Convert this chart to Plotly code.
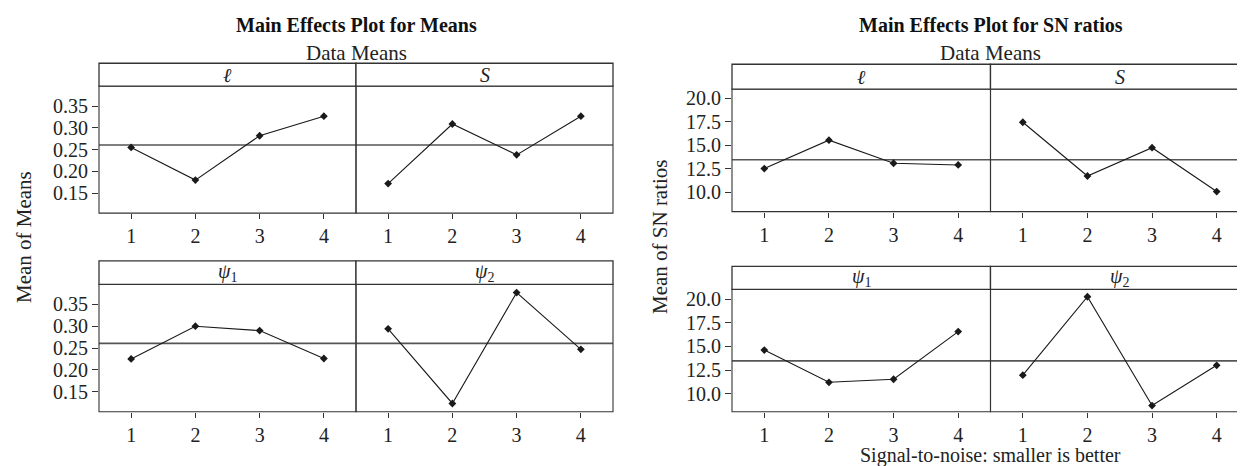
import plotly.graph_objects as go

W, H = 1245, 466

levels = [1, 2, 3, 4]
means_l = [0.255, 0.180, 0.282, 0.327]
means_S = [0.172, 0.309, 0.238, 0.327]
means_psi1 = [0.225, 0.300, 0.290, 0.226]
means_psi2 = [0.294, 0.123, 0.377, 0.247]
grand_mean_means = 0.2607

sn_l = [12.54, 15.55, 13.10, 12.92]
sn_S = [17.45, 11.75, 14.75, 10.10]
sn_psi1 = [14.62, 11.20, 11.52, 16.58]
sn_psi2 = [11.95, 20.28, 8.73, 13.00]
grand_mean_sn = 13.47

means_ticks = [0.15, 0.20, 0.25, 0.30, 0.35]
sn_ticks = [10.0, 12.5, 15.0, 17.5, 20.0]

strip_labels = ["<i>ℓ</i>", "<i>S</i>", "<i>ψ</i><sub>1</sub>", "<i>ψ</i><sub>2</sub>"]

FONT = "Liberation Serif"
LINE = "#1a1a1a"
FRAME = "#333333"
FS = 20

def fx(px):
    return px / W

def fy(py):
    return 1 - py / H

LX = (91.0, 348.0, 605.0)
RX = (724.0, 982.5, 1241.0)
L_ROWS = [(53.5, 76.5, 204.0), (252.0, 275.5, 403.5)]
R_ROWS = [(54.5, 79.5, 202.5), (257.5, 280.5, 403.5)]

panels = []
def add_block(XS, ROWS, yranges, ticks, fmt, datas, mean):
    k = 0
    for r, (st, pt, pb) in enumerate(ROWS):
        for c in range(2):
            panels.append(dict(x=(XS[c], XS[c + 1]), st=st, pt=pt, pb=pb, yr=yranges[r],
                               ticks=ticks, fmt=fmt, data=datas[k], mean=mean,
                               lab=strip_labels[k], ylab=(c == 0)))
            k += 1

add_block(LX, L_ROWS, [(0.104, 0.396), (0.104, 0.396)], means_ticks, ".2f",
          [means_l, means_S, means_psi1, means_psi2], grand_mean_means)
add_block(RX, R_ROWS, [(7.97, 20.96), (8.07, 21.07)], sn_ticks, ".1f",
          [sn_l, sn_S, sn_psi1, sn_psi2], grand_mean_sn)

fig = go.Figure()
layout = {}
shapes = []
annotations = []

for i, p in enumerate(panels, start=1):
    xa = "x" if i == 1 else f"x{i}"
    ya = "y" if i == 1 else f"y{i}"
    xkey = "xaxis" if i == 1 else f"xaxis{i}"
    ykey = "yaxis" if i == 1 else f"yaxis{i}"
    fig.add_trace(go.Scatter(x=[0.5, 4.5], y=[p["mean"], p["mean"]], mode="lines",
                             line=dict(color="#555555", width=1.6), xaxis=xa, yaxis=ya,
                             hoverinfo="skip", showlegend=False))
    fig.add_trace(go.Scatter(x=levels, y=p["data"], mode="lines+markers",
                             line=dict(color=LINE, width=1.1),
                             marker=dict(symbol="diamond", size=6, color=LINE),
                             xaxis=xa, yaxis=ya, showlegend=False))
    layout[xkey] = dict(domain=[fx(p["x"][0]), fx(p["x"][1])], anchor=ya, range=[0.5, 4.5],
                        tickvals=levels, ticks="outside", ticklen=5, tickcolor=FRAME,
                        showgrid=False, zeroline=False, showline=False,
                        tickfont=dict(family=FONT, size=FS, color="#222"))
    yax = dict(domain=[fy(p["pb"]), fy(p["pt"])], anchor=xa, range=list(p["yr"]),
               showgrid=False, zeroline=False, showline=False)
    if p["ylab"]:
        yax.update(tickvals=p["ticks"], tickformat=p["fmt"], ticks="outside", ticklen=6,
                   tickcolor=FRAME, tickfont=dict(family=FONT, size=FS, color="#222"))
    else:
        yax.update(showticklabels=False, ticks="")
    layout[ykey] = yax
    shapes.append(dict(type="rect", xref="paper", yref="paper",
                       x0=fx(p["x"][0]), x1=fx(p["x"][1]), y0=fy(p["pb"]), y1=fy(p["pt"]),
                       line=dict(color=FRAME, width=1.1), fillcolor="rgba(0,0,0,0)", layer="above"))
    shapes.append(dict(type="rect", xref="paper", yref="paper",
                       x0=fx(p["x"][0]), x1=fx(p["x"][1]), y0=fy(p["pt"]), y1=fy(p["st"]),
                       line=dict(color=FRAME, width=1.3), fillcolor="white", layer="above"))
    annotations.append(dict(text=p["lab"], xref="paper", yref="paper",
                            x=fx((p["x"][0] + p["x"][1]) / 2), y=fy((p["st"] + p["pt"]) / 2),
                            xanchor="center", yanchor="middle", showarrow=False,
                            font=dict(family=FONT, size=FS, color="#222")))

for cx, title in [((LX[0] + LX[2]) / 2, "Main Effects Plot for Means"),
                  ((RX[0] + RX[2]) / 2, "Main Effects Plot for SN ratios")]:
    annotations.append(dict(text=f"<b>{title}</b>", xref="paper", yref="paper", x=fx(cx), y=fy(15),
                            xanchor="center", yanchor="middle", showarrow=False,
                            font=dict(family=FONT, size=FS, color="#111")))
    annotations.append(dict(text="Data Means", xref="paper", yref="paper", x=fx(cx), y=fy(43),
                            xanchor="center", yanchor="middle", showarrow=False,
                            font=dict(family=FONT, size=21, color="#222")))

annotations.append(dict(text="Mean of Means", xref="paper", yref="paper", x=fx(16), y=fy(228),
                        xanchor="center", yanchor="middle", textangle=-90, showarrow=False,
                        font=dict(family=FONT, size=21, color="#222")))
annotations.append(dict(text="Mean of SN ratios", xref="paper", yref="paper", x=fx(652), y=fy(228),
                        xanchor="center", yanchor="middle", textangle=-90, showarrow=False,
                        font=dict(family=FONT, size=21, color="#222")))
annotations.append(dict(text="Signal-to-noise: smaller is better", xref="paper", yref="paper",
                        x=fx((RX[0] + RX[2]) / 2), y=fy(447), xanchor="center", yanchor="middle",
                        showarrow=False, font=dict(family=FONT, size=20, color="#222")))

fig.update_layout(width=W, height=H, margin=dict(l=0, r=0, t=0, b=0),
                  paper_bgcolor="white", plot_bgcolor="white",
                  shapes=shapes, annotations=annotations, **layout)

fig.write_html("out.html")
